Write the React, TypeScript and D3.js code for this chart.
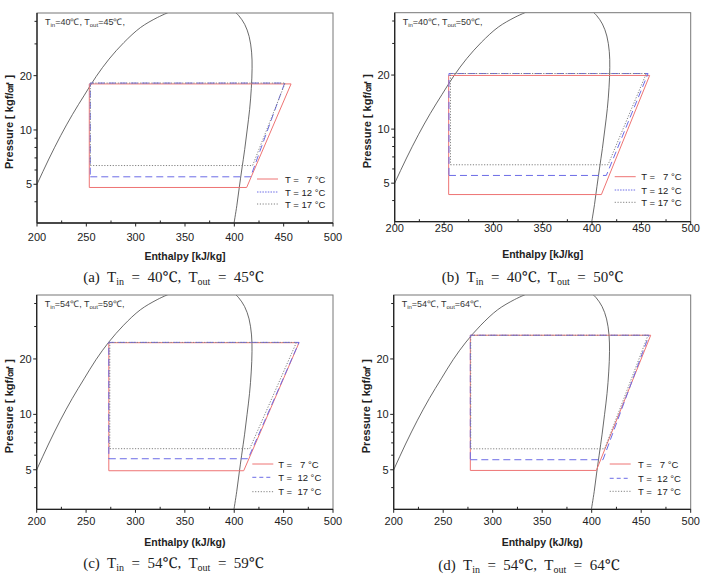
import * as d3 from "d3"

// saturation dome (h in kJ/kg, P in kgf/cm²)
const LIQUID_H = [188, 200, 212, 224, 236, 248, 260, 273, 288, 305, 322, 338]
const LIQUID_P = [3.6, 5.0, 6.9, 9.3, 12.2, 15.6, 19.8, 24.7, 30.5, 37.0, 42.0, 46.0]
const VAPOR_H = [399.5, 402.5, 405.0, 407.5, 410.5, 413.0, 415.5, 417.2, 418.0, 417.5, 415.0, 410.5, 404.5, 398]
const VAPOR_P = [3.0, 3.8, 4.8, 6.0, 7.8, 10.0, 13.0, 17.0, 22.0, 27.0, 33.0, 38.5, 43.0, 46.5]

const H_TICKS = [200, 250, 300, 350, 400, 450, 500]
const H_MINOR = [225, 275, 325, 375, 425, 475]
const P_TICKS = [5, 10, 20]
const P_MINOR = [4, 6, 7, 8, 9, 30, 40]

// one row per evaporator temperature: [h after expansion, P low, h evap out, h discharge, P high]
const CYCLES_A = [
  [253, 4.8, 412.5, 457.5, 18.0],
  [254, 5.5, 416.5, 451, 18.2],
  [254, 6.35, 418.5, 451.5, 18.2],
]
const CYCLES_B = [
  [254.7, 4.32, 409.5, 458.4, 19.9],
  [255, 5.52, 414.5, 456.8, 20.4],
  [256.5, 6.33, 416.2, 455, 20.4],
]
const CYCLES_C = [
  [273, 4.94, 409.6, 465.6, 24.5],
  [273, 5.74, 414, 465.6, 24.6],
  [274, 6.51, 415.7, 463, 24.6],
]
const CYCLES_D = [
  [277.4, 4.96, 404.7, 459.6, 26.9],
  [277.4, 5.67, 411.4, 457.9, 26.9],
  [277.8, 6.5, 413.1, 456.9, 26.9],
]

const LEGEND_AB = ["T =   7 °C", "T = 12 °C", "T = 17 °C"]
const LEGEND_CD = ["T =   7 °C", "T =  12 °C", "T =  17 °C"]
const PANEL_TAGS = ["(a)", "(b)", "(c)", "(d)"]
const T_IN = [40, 40, 54, 54]
const T_OUT = [45, 50, 59, 64]
const X_TITLES = ["Enthalpy [kJ/kg]", "Enthalpy [kJ/kg]", "Enthalpy (kJ/kg)", "Enthalpy (kJ/kg)"]

const SANS = "'Liberation Sans', Arial, sans-serif"
const SERIF = "'Liberation Serif', 'Noto Serif', serif"

const STROKES = ["#ee7474", "#6c6ce6", "#808080"]
const DASHES = [undefined, "7,4", "1.2,1.6"]

interface PanelProps {
  index: number
  left: number
  top: number
  right: number
  bottom: number
  cycles: number[][]
  legend: string[]
  legendDash: string
  legendInset: [number, number]
  legendRows: number[]
  tickGap: number
  titleGap: number
  captionX: number
  captionY: number
}

function Panel(p: PanelProps) {
  const x = d3.scaleLinear().domain([200, 500]).range([p.left, p.right])
  const y = d3.scaleLog().domain([3.05, 44.5]).range([p.bottom, p.top])
  const clipId = `clip-${p.index}`

  const line = d3
    .line<number[]>()
    .x((d) => x(d[0]))
    .y((d) => y(d[1]))
  const curve = d3
    .line<number[]>()
    .x((d) => x(d[0]))
    .y((d) => y(d[1]))
    .curve(d3.curveCatmullRom)

  const liquid = LIQUID_H.map((h, i) => [h, LIQUID_P[i]])
  const vapor = VAPOR_H.map((h, i) => [h, VAPOR_P[i]])

  const midY = (p.top + p.bottom) / 2 + 4
  const legendLineX = p.right - p.legendInset[0]
  const legendTextX = p.right - p.legendInset[1]

  return (
    <g>
      <defs>
        <clipPath id={clipId}>
          <rect x={p.left} y={p.top} width={p.right - p.left} height={p.bottom - p.top} />
        </clipPath>
      </defs>

      <g clipPath={`url(#${clipId})`} fill="none">
        <path d={curve(liquid) ?? ""} stroke="#444" strokeWidth={0.8} />
        <path d={curve(vapor) ?? ""} stroke="#444" strokeWidth={0.8} />
        {p.cycles.map((c, i) => {
          const pts = [
            [c[0], c[1]],
            [c[2], c[1]],
            [c[3], c[4]],
            [c[0], c[4]],
            [c[0], c[1]],
          ]
          return (
            <path
              key={i}
              d={line(pts) ?? ""}
              stroke={STROKES[i]}
              strokeWidth={1}
              strokeDasharray={DASHES[i]}
            />
          )
        })}
      </g>

      {/* frame */}
      <rect
        x={p.left}
        y={p.top}
        width={p.right - p.left}
        height={p.bottom - p.top}
        fill="none"
        stroke="#777"
        strokeWidth={1}
      />
      <line x1={p.left} x2={p.right} y1={p.bottom} y2={p.bottom} stroke="#222" strokeWidth={1.3} />
      <line x1={p.left} x2={p.left} y1={p.top} y2={p.bottom} stroke="#222" strokeWidth={1.3} />

      {/* x axis */}
      {H_TICKS.map((t) => (
        <g key={t}>
          <line x1={x(t)} x2={x(t)} y1={p.bottom} y2={p.bottom + 3.5} stroke="#222" />
          <text
            x={x(t)}
            y={p.bottom + p.tickGap}
            textAnchor="middle"
            fontFamily={SANS}
            fontSize={11}
            fill="#222"
          >
            {t}
          </text>
        </g>
      ))}
      {H_MINOR.map((t) => (
        <line key={t} x1={x(t)} x2={x(t)} y1={p.bottom} y2={p.bottom - 2.5} stroke="#222" />
      ))}
      <text
        x={(p.left + p.right) / 2}
        y={p.bottom + p.titleGap}
        textAnchor="middle"
        fontFamily={SANS}
        fontWeight="bold"
        fontSize={10.5}
        fill="#222"
      >
        {X_TITLES[p.index]}
      </text>

      {/* y axis */}
      {P_TICKS.map((t) => (
        <g key={t}>
          <line x1={p.left - 3.5} x2={p.left} y1={y(t)} y2={y(t)} stroke="#222" />
          <text
            x={p.left - 5}
            y={y(t) + 4}
            textAnchor="end"
            fontFamily={SANS}
            fontSize={11}
            fill="#222"
          >
            {t}
          </text>
        </g>
      ))}
      {P_MINOR.map((t) => (
        <line key={t} x1={p.left - 2.5} x2={p.left} y1={y(t)} y2={y(t)} stroke="#222" />
      ))}
      <text
        transform={`translate(${p.left - 24},${midY}) rotate(-90)`}
        textAnchor="middle"
        fontFamily={SANS}
        fontWeight="bold"
        fontSize={11}
        fill="#222"
        style={{ whiteSpace: "pre" }}
      >
        {"Pressure [ kgf/㎠ ]"}
      </text>

      {/* condition note */}
      <text x={p.left + 8} y={p.top + 12} fontFamily={SANS} fontSize={9} fill="#333">
        T<tspan fontSize={6} dy={2}>in</tspan>
        <tspan dy={-2}>{`=${T_IN[p.index]}℃, T`}</tspan>
        <tspan fontSize={6} dy={2}>out</tspan>
        <tspan dy={-2}>{`=${T_OUT[p.index]}℃,`}</tspan>
      </text>

      {/* legend */}
      {p.legend.map((label, i) => {
        const ly = p.bottom - p.legendRows[i]
        return (
          <g key={label}>
            <line
              x1={legendLineX}
              x2={legendLineX + 21}
              y1={ly}
              y2={ly}
              stroke={STROKES[i]}
              strokeWidth={1}
              strokeDasharray={i === 1 ? p.legendDash : DASHES[i]}
            />
            <text
              x={legendTextX}
              y={ly + 3.5}
              fontFamily={SANS}
              fontSize={9.5}
              fill="#222"
              style={{ whiteSpace: "pre" }}
            >
              {label}
            </text>
          </g>
        )
      })}

      {/* caption */}
      <text
        x={p.captionX}
        y={p.captionY}
        textAnchor="middle"
        fontFamily={SERIF}
        fontSize={15}
        fill="#222"
        style={{ whiteSpace: "pre" }}
      >
        {`${PANEL_TAGS[p.index]}  T`}
        <tspan fontSize={10} dy={3}>in</tspan>
        <tspan dy={-3}>{`  =  ${T_IN[p.index]}℃,  T`}</tspan>
        <tspan fontSize={10} dy={3}>out</tspan>
        <tspan dy={-3}>{`  =  ${T_OUT[p.index]}℃`}</tspan>
      </text>
    </g>
  )
}

export default function App() {
  return (
    <svg
      width={706}
      height={579}
      style={{ position: "absolute", left: 0, top: 0, background: "#fff" }}
    >
      <rect width={706} height={579} fill="#fff" />
      <Panel
        index={0}
        left={37}
        top={13}
        right={333}
        bottom={223}
        cycles={CYCLES_A}
        legend={LEGEND_AB}
        legendDash="1.5,1.2"
        legendInset={[76, 48]}
        legendRows={[44, 31, 19]}
        tickGap={17.5}
        titleGap={37}
        captionX={173.5}
        captionY={282}
      />
      <Panel
        index={1}
        left={394.7}
        top={12.7}
        right={690.7}
        bottom={221.7}
        cycles={CYCLES_B}
        legend={LEGEND_AB}
        legendDash="1.5,1.2"
        legendInset={[76, 49.4]}
        legendRows={[45, 31.7, 19.4]}
        tickGap={10}
        titleGap={36}
        captionX={532.5}
        captionY={281.5}
      />
      <Panel
        index={2}
        left={36.7}
        top={295}
        right={333}
        bottom={509.3}
        cycles={CYCLES_C}
        legend={LEGEND_CD}
        legendDash="4,3"
        legendInset={[80.7, 54.7]}
        legendRows={[45.3, 32, 17.6]}
        tickGap={15.5}
        titleGap={37}
        captionX={173.5}
        captionY={568}
      />
      <Panel
        index={3}
        left={393.7}
        top={295}
        right={690.7}
        bottom={509.3}
        cycles={CYCLES_D}
        legend={LEGEND_CD}
        legendDash="4,3"
        legendInset={[81, 52.7]}
        legendRows={[45.3, 31, 18]}
        tickGap={15.5}
        titleGap={37}
        captionX={529}
        captionY={570}
      />
    </svg>
  )
}
